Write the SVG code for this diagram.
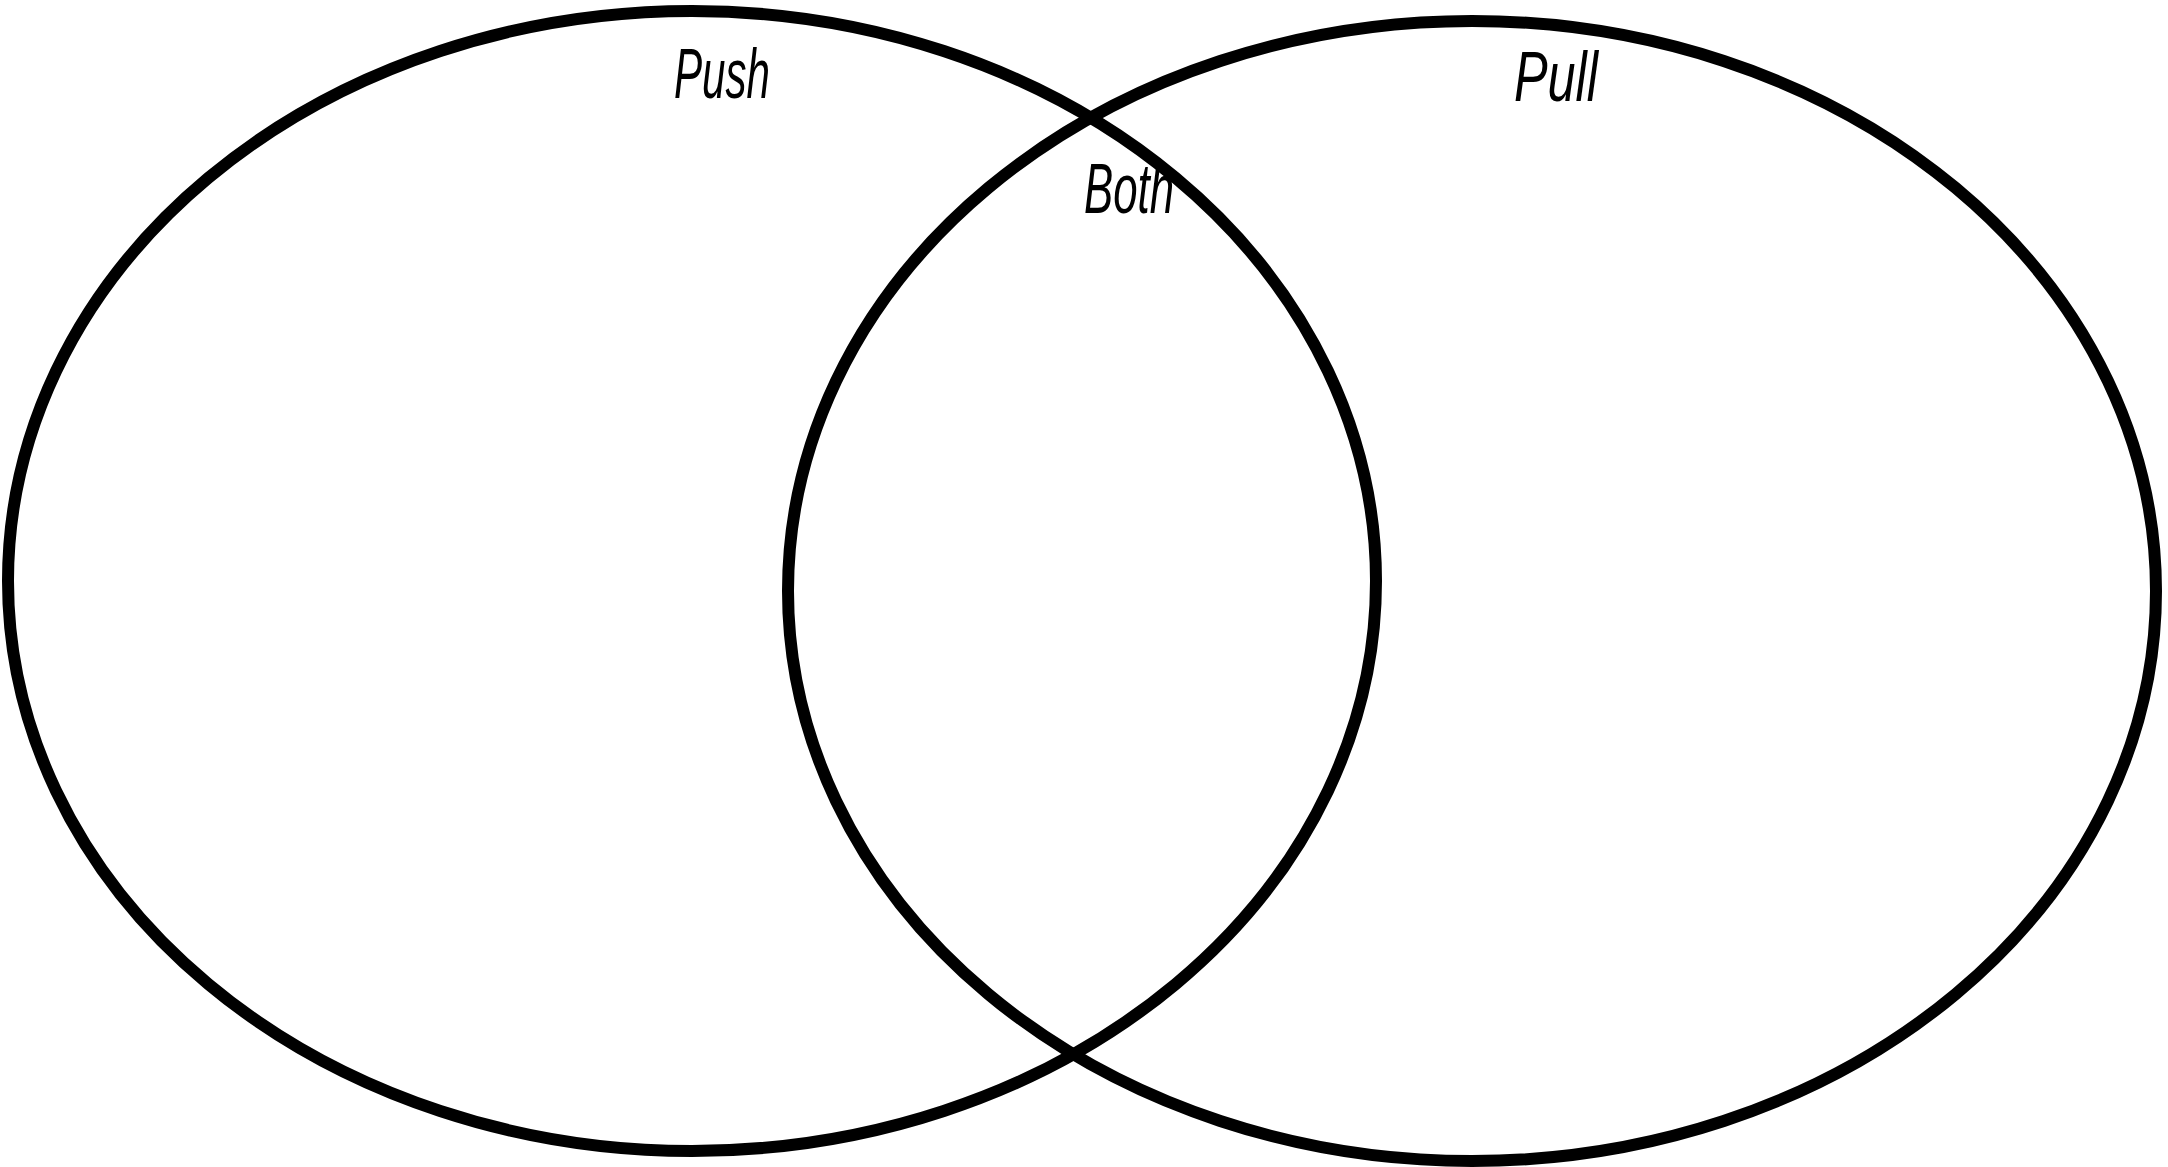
<svg xmlns="http://www.w3.org/2000/svg" width="2168" height="1167" viewBox="0 0 2168 1167">
<style>
.set{fill:none;stroke:#000;stroke-width:12}
.lbl{font-family:"Liberation Sans","DejaVu Sans",sans-serif;font-style:italic;font-size:70px;fill:#000}
</style>
<rect width="2168" height="1167" fill="#fff"/>
<g id="push">
<ellipse class="set" cx="692" cy="581" rx="684" ry="570"/>
<text class="lbl" x="674" y="98" textLength="96" lengthAdjust="spacingAndGlyphs">Push</text>
</g>
<g id="pull">
<ellipse class="set" cx="1472" cy="591" rx="684" ry="570"/>
<text class="lbl" x="1514" y="101" textLength="84" lengthAdjust="spacingAndGlyphs">Pull</text>
</g>
<g id="both">
<text class="lbl" x="1084" y="213" textLength="90" lengthAdjust="spacingAndGlyphs">Both</text>
</g>
<g id="connectors"></g>
</svg>
